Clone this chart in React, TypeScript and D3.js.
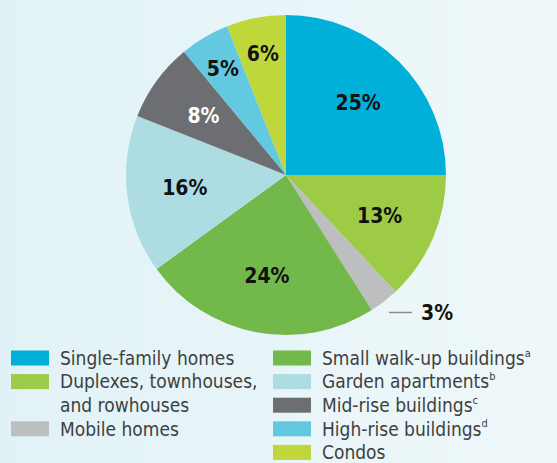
import * as d3 from "d3";

const categories = [
  "Single-family homes",
  "Duplexes, townhouses, and rowhouses",
  "Mobile homes",
  "Small walk-up buildings",
  "Garden apartments",
  "Mid-rise buildings",
  "High-rise buildings",
  "Condos",
];
const shares = [25, 13, 3, 24, 16, 8, 5, 6];
const colors = ["#00b0d8", "#9dcb45", "#bcbec0", "#72b84a", "#addde3", "#6d6e71", "#63c9e0", "#bfd73b"];
const labelColors = ["#111", "#111", "#111", "#111", "#111", "#fff", "#111", "#111"];

const legendLeft = [
  { idx: 0, lines: ["Single-family homes"], sup: "" },
  { idx: 1, lines: ["Duplexes, townhouses,", "and rowhouses"], sup: "" },
  { idx: 2, lines: ["Mobile homes"], sup: "" },
];
const legendRight = [
  { idx: 3, lines: ["Small walk-up buildings"], sup: "a" },
  { idx: 4, lines: ["Garden apartments"], sup: "b" },
  { idx: 5, lines: ["Mid-rise buildings"], sup: "c" },
  { idx: 6, lines: ["High-rise buildings"], sup: "d" },
  { idx: 7, lines: ["Condos"], sup: "" },
];

const W = 557;
const H = 463;
const CX = 286;
const CY = 175;
const R = 160;
const FONT = "'Liberation Sans Narrow', 'DejaVu Sans Condensed', Roboto, sans-serif";

export default function App() {
  const pie = d3.pie<number>().sort(null).value((d) => d);
  const arcs = pie(shares);
  const arc = d3.arc<d3.PieArcDatum<number>>().innerRadius(0).outerRadius(R);
  const labelArc = (d: d3.PieArcDatum<number>) => {
    const r = d.data < 7 ? 124 : 102;
    return d3.arc<d3.PieArcDatum<number>>().innerRadius(r).outerRadius(r).centroid(d);
  };

  const rowH = 23.6;
  const legendTop = 358;

  const renderLegend = (items: typeof legendLeft, x: number) => {
    let row = 0;
    return items.map((it) => {
      const y0 = legendTop + row * rowH;
      row += it.lines.length;
      return (
        <g key={it.idx}>
          <rect x={x} y={y0 - 7.5} width={38} height={15} fill={colors[it.idx]} />
          {it.lines.map((ln, j) => (
            <text
              key={j}
              x={x + 49}
              y={y0 + j * rowH}
              dy="0.36em"
              fontSize={19}
              fill="#3f3f41"
              fontFamily={FONT}
            >
              {ln}
              {j === it.lines.length - 1 && it.sup ? (
                <tspan fontSize={11} dy="-0.75em">{it.sup}</tspan>
              ) : null}
            </text>
          ))}
        </g>
      );
    });
  };

  const mobile = arcs[2];
  const mobileMid = (mobile.startAngle + mobile.endAngle) / 2;
  const lx0 = Math.sin(mobileMid) * R + 5;
  const ly0 = -Math.cos(mobileMid) * (R + 14);

  return (
    <svg width={W} height={H} style={{ position: "fixed", left: 0, top: 0 }}>
      <defs>
        <linearGradient id="bg" x1="0" x2="1" y1="0" y2="0">
          <stop offset="0" stopColor="#e1f2f6" />
          <stop offset="1" stopColor="#eff8fa" />
        </linearGradient>
      </defs>
      <rect width={W} height={H} fill="url(#bg)" />
      <g transform={`translate(${CX},${CY})`}>
        {arcs.map((d, i) => (
          <path key={i} d={arc(d) || ""} fill={colors[i]} />
        ))}
        {arcs.map((d, i) => {
          if (i === 2) return null;
          const [lx, ly] = labelArc(d);
          return (
            <text
              key={i}
              x={lx}
              y={ly}
              dy="0.36em"
              textAnchor="middle"
              fontSize={21}
              fontWeight="bold"
              fill={labelColors[i]}
              fontFamily={FONT}
            >
              {`${d.data}%`}
            </text>
          );
        })}
        <line x1={lx0} x2={lx0 + 23} y1={ly0} y2={ly0} stroke="#8a8c8e" strokeWidth={1.5} />
        <text
          x={lx0 + 32}
          y={ly0}
          dy="0.36em"
          fontSize={21}
          fontWeight="bold"
          fill="#111"
          fontFamily={FONT}
        >
          {`${mobile.data}%`}
        </text>
      </g>
      {renderLegend(legendLeft, 11)}
      {renderLegend(legendRight, 273)}
    </svg>
  );
}
